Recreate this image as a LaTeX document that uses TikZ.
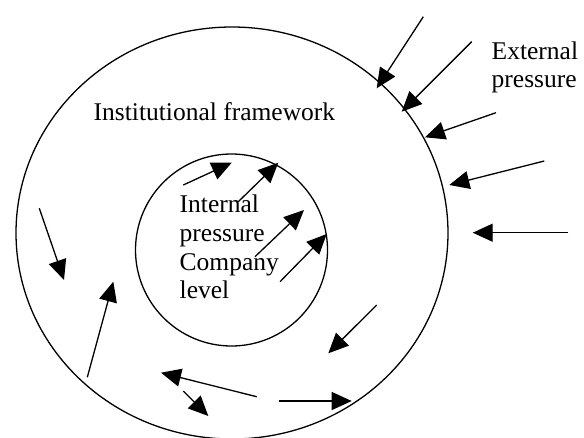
\documentclass[tikz,border=0pt]{standalone}
\usepackage{fontspec}
\setmainfont{Liberation Serif}
\usetikzlibrary{arrows.meta}
\begin{document}
\begin{tikzpicture}[x=1pt,y=-1pt,
  ring/.style={draw=black,line width=1.3pt},
  pressure/.style={draw=black,line width=1.3pt,-{Triangle[length=20pt,width=18pt]}},
  label/.style={anchor=base west,inner sep=0pt,font=\fontsize{25.5}{28.5}\selectfont}]
  \useasboundingbox[fill=white] (0,0) rectangle (584,437);

  % institutional framework and company level
  \draw[ring] (232,233) ellipse [x radius=216,y radius=206];
  \draw[ring] (231.5,250) circle [radius=96];

  % texts
  \node[label] (inst) at (93.5,120.7) {Institutional framework};
  \node[label] (ext1) at (491.5,59) {External};
  \node[label] (ext2) at (491.5,87.5) {pressure};
  \node[label] (int1) at (179.5,212.7) {Internal};
  \node[label] (int2) at (179.5,241.5) {pressure};
  \node[label] (int3) at (179.5,270) {Company};
  \node[label] (int4) at (179.5,298.5) {level};

  % external pressure
  \draw[pressure] (423.3,16.7) -- (376.7,88.3);
  \draw[pressure] (471.7,41.7) -- (401.7,111.7);
  \draw[pressure] (496,112.7) -- (425,137.3);
  \draw[pressure] (544.3,161) -- (449.3,185);
  \draw[pressure] (568.3,232.7) -- (472.7,232.7);

  % internal pressure
  \draw[pressure] (183.3,185) -- (231.7,162.7);
  \draw[pressure] (238.3,201.7) -- (278.3,162.7);
  \draw[pressure] (255,256.7) -- (304,210);
  \draw[pressure] (280,281.7) -- (326.7,234);

  % pressures inside the framework
  \draw[pressure] (39.3,208.3) -- (64,280);
  \draw[pressure] (87.3,377.3) -- (113.3,281.7);
  \draw[pressure] (376.7,305) -- (328.3,353.3);
  \draw[pressure] (256.7,396.7) -- (161,372.7);
  \draw[pressure] (183.3,391) -- (208.3,416);
  \draw[pressure] (279.3,401) -- (351.7,401);
\end{tikzpicture}
\end{document}
